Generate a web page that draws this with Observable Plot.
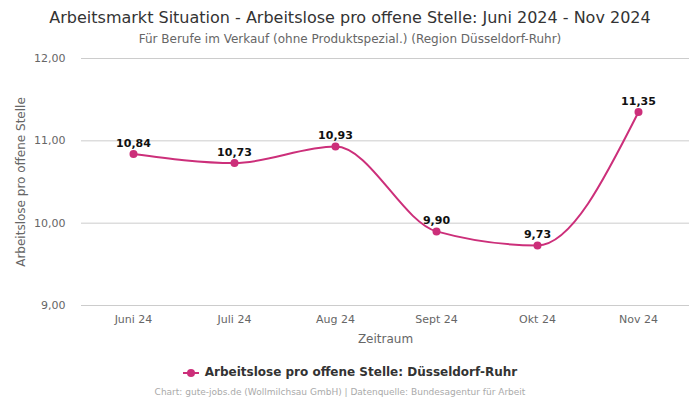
<!DOCTYPE html>
<html><head><meta charset="utf-8">
<script src="https://cdn.jsdelivr.net/npm/d3@7"></script>
<script src="https://cdn.jsdelivr.net/npm/@observablehq/plot@0.6"></script>
<style>
body{margin:0;background:#fff;font-family:"DejaVu Sans",sans-serif;width:700px;height:400px;overflow:hidden}
#title{position:absolute;top:8px;left:0;width:700px;text-align:center;font-size:16px;color:#333}
#sub{position:absolute;top:32px;left:0;width:700px;text-align:center;font-size:12px;color:#666}
#chart{position:absolute;top:50px;left:0}
#legend{position:absolute;top:365px;left:0;width:700px;text-align:center;font-size:12px;font-weight:bold;color:#333}
#legend svg{vertical-align:-2px;margin-right:6px}
#cap{position:absolute;top:387px;left:-10px;width:700px;text-align:center;font-size:9px;color:#aaa}
g[aria-label="y-axis label"] text, g[aria-label="x-axis label"] text{font-size:12px}
</style></head><body>
<div id="title">Arbeitsmarkt Situation - Arbeitslose pro offene Stelle: Juni 2024 - Nov 2024</div>
<div id="sub">Für Berufe im Verkauf (ohne Produktspezial.) (Region Düsseldorf-Ruhr)</div>
<div id="chart"></div>
<div id="legend"><svg width="16" height="10"><line x1="0" y1="5" x2="16" y2="5" stroke="#cc2f7a" stroke-width="2"/><circle cx="8" cy="5" r="4" fill="#cc2f7a"/></svg>Arbeitslose pro offene Stelle: Düsseldorf-Ruhr</div>
<div id="cap">Chart: gute-jobs.de (Wollmilchsau GmbH) | Datenquelle: Bundesagentur für Arbeit</div>
<script>
const months = ["Juni 24","Juli 24","Aug 24","Sept 24","Okt 24","Nov 24"];
const values = [10.84,10.73,10.93,9.90,9.73,11.35];
const yTicks = [9,10,11,12];
const data = months.map((m,i)=>({m, v: values[i]}));
const fmt = d3.format(",.2f");
const de = v => fmt(v).replace(/\./,"#").replace(/,/g,".").replace("#",",");
const color = "#cc2f7a";
const chart = Plot.plot({
  width: 700, height: 300,
  marginLeft: 81, marginRight: 11, marginTop: 8, marginBottom: 45,
  style: {fontFamily: "DejaVu Sans, sans-serif", fontSize: "11px", color: "#666"},
  x: {type: "point", domain: months, padding: 0.5},
  y: {domain: [9,12]},
  marks: [
    Plot.gridY(yTicks, {stroke: "#ccc", strokeOpacity: 1}),
    Plot.axisX({tickSize: 0, tickPadding: 10, label: "Zeitraum", labelAnchor: "center", labelOffset: 37, labelArrow: "none", fontSize: 11}),
    Plot.axisY({ticks: yTicks, tickFormat: de, tickSize: 0, tickPadding: 16, label: "Arbeitslose pro offene Stelle", labelAnchor: "center", labelOffset: 65, labelArrow: "none", fontSize: 11}),
    Plot.line(data, {x: "m", y: "v", stroke: color, strokeWidth: 2, curve: "monotone-x"}),
    Plot.dot(data, {x: "m", y: "v", fill: color, r: 4}),
    Plot.text(data, {x: "m", y: "v", text: d => de(d.v), dy: -11, fill: "#111", fontWeight: "bold", fontSize: 11})
  ]
});
document.getElementById("chart").appendChild(chart);
</script>
</body></html>
